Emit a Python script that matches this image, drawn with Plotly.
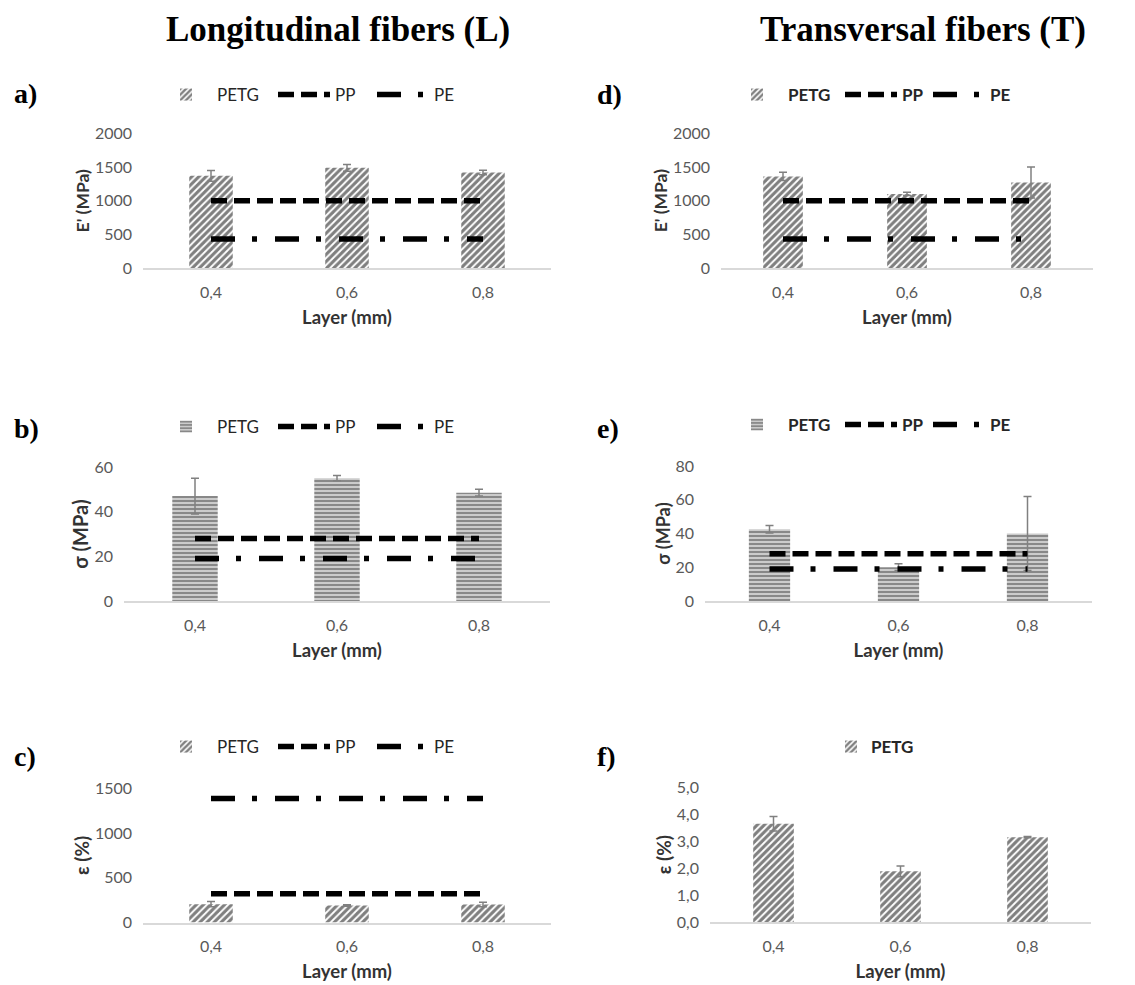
import plotly.graph_objects as go

W, H = 1135, 985

# ---------------- data ----------------
layers = ["0,4", "0,6", "0,8"]

# Longitudinal fibers (L)
E_L = [1370, 1490, 1420]
E_L_err = [80, 50, 35]
sigma_L = [47, 55, 48.5]
sigma_L_err = [8, 1.2, 1.5]
eps_L = [205, 190, 200]
eps_L_err = [30, 8, 25]

# Transversal fibers (T)
E_T = [1360, 1100, 1270]
E_T_err = [60, 25, 230]
sigma_T = [42.5, 20, 40]
sigma_T_err = [2.2, 2, 22]
eps_T = [3.65, 1.88, 3.15]
eps_T_err = [0.27, 0.2, 0.02]

# reference materials
PP_E = [1000, 1000, 1000]
PE_E = [430, 430, 430]
PP_sigma = [28, 28, 28]
PE_sigma = [19, 19, 19]
PP_eps = [320, 320, 320]
PE_eps = [1385, 1385, 1385]

# ---------------- helpers ----------------
def px_x(v):
    return v / W

def px_y(v):
    return 1 - v / H

TICK_FONT = dict(family="Lato", size=16, color="#595959")
XT_FONT = dict(family="Lato", size=18.5, color="#333333", weight="bold")
DIAG = dict(shape="/", size=5, solidity=0.62, fgcolor="black", bgcolor="white")
HORIZ = dict(shape="-", size=4, solidity=0.72, fgcolor="#111111", bgcolor="white")
PP_DASH = "16px,7px"
PE_DASH = "24px,17px,5px,18px"
ERR = dict(type="data", thickness=1.5, width=4, color="#808080")

panels = [
    dict(v=E_L, e=E_L_err, pat=DIAG, pp=PP_E, pe=PE_E, yt="E' (MPa)", yts=17.5, yr=[0, 2000], dt=500,
         x=(143, 551), y=(268, 133.5), leg=(155, 95), bold=False, fmt="", lw=(51, 32), iw=52),
    dict(v=sigma_L, e=sigma_L_err, pat=HORIZ, pp=PP_sigma, pe=PE_sigma, yt="σ (MPa)", yts=20, yr=[0, 60], dt=20,
         x=(124, 550), y=(601, 467), leg=(155, 427), bold=False, fmt="", lw=(51, 32), iw=52),
    dict(v=eps_L, e=eps_L_err, pat=DIAG, pp=PP_eps, pe=PE_eps, yt="ε (%)", yts=19, yr=[0, 1500], dt=500,
         x=(143, 551), y=(922.5, 788.3), leg=(155, 747), bold=False, fmt="", lw=(51, 32), iw=52),
    dict(v=E_T, e=E_T_err, pat=DIAG, pp=PP_E, pe=PE_E, yt="E' (MPa)", yts=17.5, yr=[0, 2000], dt=500,
         x=(721, 1093), y=(268, 133.3), leg=(726, 95), bold=True, fmt="", lw=(47, 21), iw=52),
    dict(v=sigma_T, e=sigma_T_err, pat=HORIZ, pp=PP_sigma, pe=PE_sigma, yt="σ (MPa)", yts=18, yr=[0, 80], dt=20,
         x=(705, 1092), y=(601, 466), leg=(726, 425), bold=True, fmt="", lw=(47, 21), iw=52),
    dict(v=eps_T, e=eps_T_err, pat=DIAG, pp=None, pe=None, yt="ε (%)", yts=19, yr=[0, 5], dt=1,
         x=(710, 1091), y=(922, 787.3), leg=(831, 747), bold=True, fmt=".1f", lw=(0, 0), iw=30),
]

fig = go.Figure()
layout = {}

for i, p in enumerate(panels, start=1):
    xa = "x" if i == 1 else f"x{i}"
    ya = "y" if i == 1 else f"y{i}"
    lg = "legend" if i == 1 else f"legend{i}"
    bar_kw = dict(legendwidth=p["lw"][0]) if p["lw"][0] else {}
    fig.add_trace(go.Bar(
        x=layers, y=p["v"], name="PETG", xaxis=xa, yaxis=ya, legend=lg,
        marker=dict(color="white", pattern=p["pat"], line=dict(width=0)),
        error_y=dict(array=p["e"], **ERR), showlegend=True, **bar_kw,
    ))
    if p["pp"] is not None:
        fig.add_trace(go.Scatter(
            x=layers, y=p["pp"], name="PP", mode="lines", xaxis=xa, yaxis=ya, legend=lg,
            line=dict(color="black", width=5.5, dash=PP_DASH), legendwidth=p["lw"][1],
        ))
        fig.add_trace(go.Scatter(
            x=layers, y=p["pe"], name="PE", mode="lines", xaxis=xa, yaxis=ya, legend=lg,
            line=dict(color="black", width=5.5, dash=PE_DASH),
        ))
    xkey = "xaxis" if i == 1 else f"xaxis{i}"
    ykey = "yaxis" if i == 1 else f"yaxis{i}"
    layout[xkey] = dict(
        domain=[px_x(p["x"][0]), px_x(p["x"][1])], anchor=ya, type="category",
        showline=True, linecolor="#d9d9d9", linewidth=1.5, showgrid=False, zeroline=False,
        ticks="", tickfont=TICK_FONT, ticklabelstandoff=9, automargin=False,
        title=dict(text="Layer (mm)", font=XT_FONT, standoff=11),
        fixedrange=True,
    )
    layout[ykey] = dict(
        domain=[px_y(p["y"][0]), px_y(p["y"][1])], anchor=xa, range=p["yr"], dtick=p["dt"],
        tick0=0, showline=False, showgrid=False, zeroline=False, ticks="",
        tickfont=TICK_FONT, tickformat=p["fmt"], ticklabelstandoff=10, automargin=False,
        title=dict(text=p["yt"], font=dict(family="Lato", size=p["yts"], color="#333333", weight="bold"),
                   standoff=0),
        fixedrange=True,
    )
    lfont = dict(family="Lato", size=17, color="#262626")
    if p["bold"]:
        lfont["weight"] = "bold"
    layout[lg] = dict(
        orientation="h", x=px_x(p["leg"][0]), y=px_y(p["leg"][1]),
        xanchor="left", yanchor="middle", font=lfont, bgcolor="rgba(0,0,0,0)",
        borderwidth=0, traceorder="normal", itemclick=False, itemdoubleclick=False,
        itemwidth=p["iw"],
    )

annotations = [
    dict(text="<b>Longitudinal fibers (L)</b>", x=px_x(338), y=px_y(30)),
    dict(text="<b>Transversal fibers (T)</b>", x=px_x(923), y=px_y(30)),
]
for a in annotations:
    a.update(xref="paper", yref="paper", xanchor="center", yanchor="middle", showarrow=False,
             font=dict(family="Liberation Serif", size=35, color="black"))

labels = [("a)", 12, 93), ("b)", 12, 428), ("c)", 12, 756),
          ("d)", 595, 94), ("e)", 595, 428), ("f)", 595, 756)]
for t, lx, ly in labels:
    annotations.append(dict(text=f"<b>{t}</b>", x=px_x(lx), y=px_y(ly), xref="paper", yref="paper",
                            xanchor="left", yanchor="middle", showarrow=False,
                            font=dict(family="Liberation Serif", size=28, color="black")))

fig.update_layout(
    width=W, height=H, margin=dict(l=0, r=0, t=0, b=0, pad=0, autoexpand=False),
    paper_bgcolor="white", plot_bgcolor="white",
    bargap=0.68, separators=", ",
    annotations=annotations,
    **layout,
)

fig.write_html("out.html", config={"displayModeBar": False},
               post_script="document.body.style.margin='0px';")
